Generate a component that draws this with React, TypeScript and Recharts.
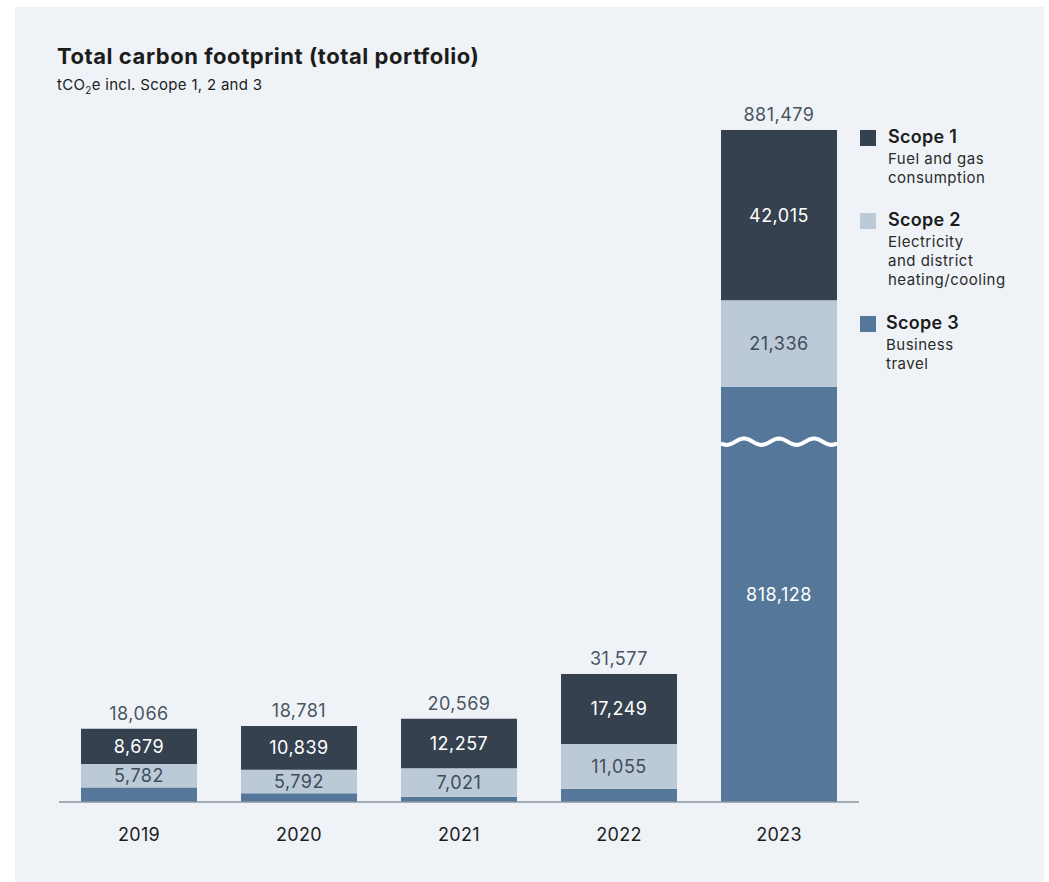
import { BarChart, Bar, XAxis, YAxis, LabelList } from 'recharts'

// Total carbon footprint, tCO2e per year and scope
const years = ['2019', '2020', '2021', '2022', '2023']
const scope1 = [8679, 10839, 12257, 17249, 42015]
const scope2 = [5782, 5792, 7021, 11055, 21336]
const scope3 = [3605, 2150, 1291, 3273, 818128]

const legendTitles = ['Scope 1', 'Scope 2', 'Scope 3']
const legendNotes = [
  ['Fuel and gas', 'consumption'],
  ['Electricity', 'and district', 'heating/cooling'],
  ['Business', 'travel'],
]

// scope 3 in 2023 is drawn on a broken axis, cut at this value
const AXIS_BREAK = 102500

const COLORS = ['#36414f', '#bccad8', '#557799']
const FONT = 'Inter, "Noto Sans", sans-serif'

const fmt = (v: number) => v.toLocaleString('en-US')

const data = years.map((year, i) => ({
  year,
  scope1: scope1[i],
  scope2: scope2[i],
  scope3Shown: Math.min(scope3[i], AXIS_BREAK),
  scope3Label: scope3[i] > AXIS_BREAK ? scope3[i] : null,
  broken: scope3[i] > AXIS_BREAK,
  total: scope1[i] + scope2[i] + scope3[i],
}))

// eslint-disable-next-line @typescript-eslint/no-explicit-any
function BrokenBar(props: any) {
  const { x, y, width, height, fill, payload } = props
  if (!height || height <= 0) return null
  let wave = ''
  if (payload?.broken) {
    const y0 = y + 55
    for (let t = 0; t <= width; t += 2) {
      const wy = y0 - 3.2 * Math.cos((2 * Math.PI * (t - 23)) / 35)
      wave += `${t === 0 ? 'M' : 'L'}${x + t},${wy.toFixed(2)}`
    }
  }
  return (
    <g>
      <rect x={x} y={y} width={width} height={height} fill={fill} />
      {wave && <path d={wave} stroke="#ffffff" strokeWidth={4} fill="none" />}
    </g>
  )
}

const labelStyle = { fontSize: 18, fontFamily: FONT, letterSpacing: 0.5 }

export default function App() {
  return (
    <div style={{ position: 'absolute', left: 0, top: 0, width: 1049, height: 882, background: '#ffffff', fontFamily: FONT }}>
      <div style={{ position: 'absolute', left: 15, top: 7, width: 1029, height: 875, background: '#eff3f7' }} />

      <div style={{ position: 'absolute', left: 57, top: 43, fontSize: 22, fontWeight: 700, color: '#1c1c1c', letterSpacing: 0.55 }}>
        Total carbon footprint (total portfolio)
      </div>
      <div style={{ position: 'absolute', left: 57, top: 75, fontSize: 15, color: '#1c1c1c', letterSpacing: 0.3 }}>
        tCO<sub style={{ fontSize: 10 }}>2</sub>e incl. Scope 1, 2 and 3
      </div>

      <div style={{ position: 'absolute', left: 0, top: 0 }}>
        <BarChart
          width={1049}
          height={882}
          data={data}
          margin={{ top: 130, right: 190, bottom: 0, left: 59 }}
          barSize={116}
        >
          <XAxis
            dataKey="year"
            height={80}
            tickLine={false}
            axisLine={{ stroke: '#8d959e', strokeWidth: 1.5 }}
            tickMargin={20}
            tick={{ fontSize: 18, fill: '#1c1c1c', fontFamily: FONT, letterSpacing: 0.3 }}
          />
          <YAxis hide domain={[0, 'dataMax']} />
          <Bar dataKey="scope3Shown" stackId="a" fill={COLORS[2]} isAnimationActive={false} shape={BrokenBar}>
            <LabelList
              dataKey="scope3Label"
              position="center"
              formatter={(v: unknown) => (v == null ? '' : fmt(v as number))}
              fill="#ffffff"
              {...labelStyle}
            />
          </Bar>
          <Bar dataKey="scope2" stackId="a" fill={COLORS[1]} isAnimationActive={false}>
            <LabelList dataKey="scope2" position="center" formatter={(v: unknown) => fmt(v as number)} fill="#414d5b" {...labelStyle} />
          </Bar>
          <Bar dataKey="scope1" stackId="a" fill={COLORS[0]} isAnimationActive={false}>
            <LabelList dataKey="scope1" position="center" formatter={(v: unknown) => fmt(v as number)} fill="#ffffff" {...labelStyle} />
            <LabelList dataKey="total" position="top" offset={9} formatter={(v: unknown) => fmt(v as number)} fill="#4a5563" {...labelStyle} />
          </Bar>
        </BarChart>
      </div>

      {legendTitles.map((title, i) => (
        <div key={title} style={{ position: 'absolute', left: 860, top: [127, 210, 313][i] }}>
          <div style={{ position: 'absolute', left: 0, top: 3, width: 16, height: 16, background: COLORS[i] }} />
          <div style={{ marginLeft: i === 2 ? 26 : 28, fontSize: 18, fontWeight: 600, color: '#1c1c1c', lineHeight: '20px', letterSpacing: 0.3 }}>{title}</div>
          <div style={{ marginLeft: i === 2 ? 26 : 28, marginTop: 2, fontSize: 15, color: '#2a2a2a', lineHeight: '19px', letterSpacing: 0.5 }}>
            {legendNotes[i].map(line => (
              <div key={line}>{line}</div>
            ))}
          </div>
        </div>
      ))}
    </div>
  )
}
